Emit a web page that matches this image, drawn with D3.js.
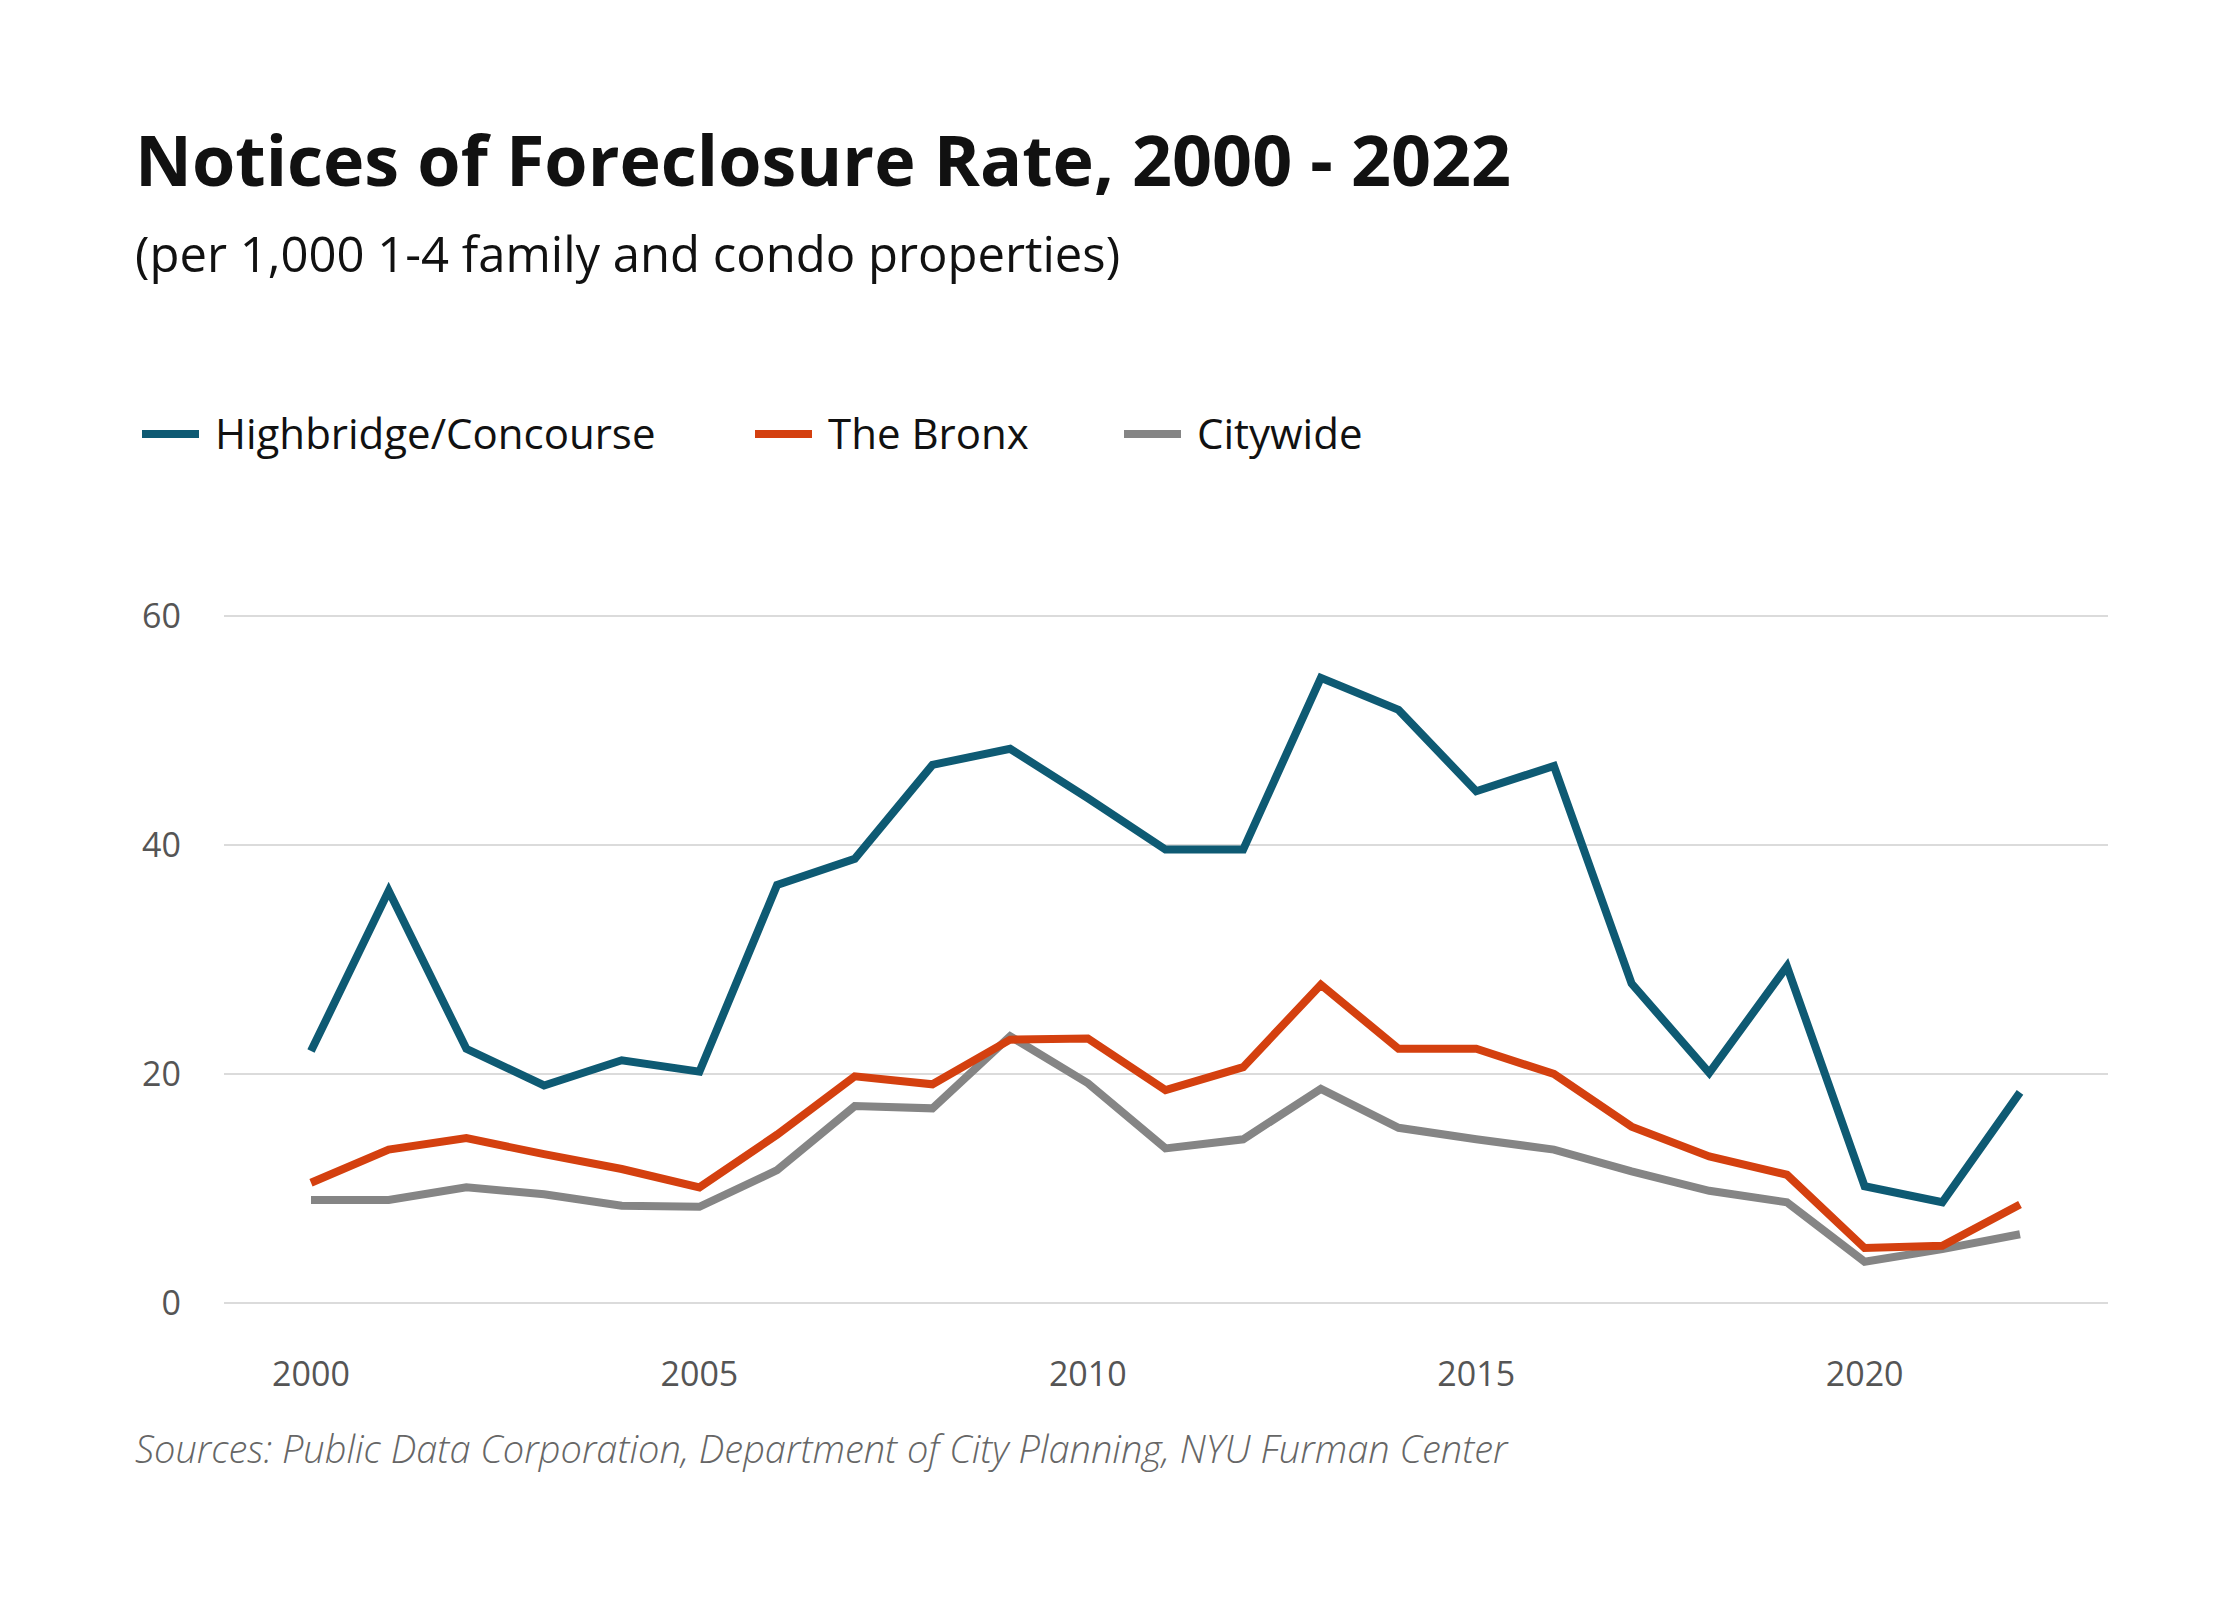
<!DOCTYPE html>
<html><head><meta charset="utf-8">
<script src="https://cdn.jsdelivr.net/npm/d3@7"></script>
<style>body{margin:0;background:#fff;font-family:"Open Sans",sans-serif}</style>
</head><body>
<svg id="chart" width="2240" height="1600"></svg>
<script>
// chart data
const years = d3.range(2000, 2023);
const highbridge = [22, 36, 22.2, 19, 21.2, 20.2, 36.5, 38.8, 47, 48.4, 44.1, 39.6, 39.6, 54.6, 51.8, 44.7, 46.9, 27.9, 20.1, 29.4, 10.2, 8.8, 18.4];
const bronx = [10.5, 13.4, 14.4, 13.0, 11.7, 10.1, 14.7, 19.8, 19.1, 23.0, 23.1, 18.6, 20.6, 27.8, 22.2, 22.2, 20.0, 15.4, 12.8, 11.2, 4.8, 5.0, 8.6];
const citywide = [9.0, 9.0, 10.1, 9.5, 8.5, 8.4, 11.6, 17.2, 17.0, 23.3, 19.2, 13.5, 14.3, 18.7, 15.3, 14.3, 13.4, 11.5, 9.8, 8.8, 3.6, 4.7, 6.0];
const yTicks = [0, 20, 40, 60];
const xTicks = [2000, 2005, 2010, 2015, 2020];

const series = [
  {name: "Highbridge/Concourse", values: highbridge, color: "#0e5a73", lx: 142},
  {name: "The Bronx", values: bronx, color: "#d4400f", lx: 755},
  {name: "Citywide", values: citywide, color: "#858585", lx: 1124}
];

const svg = d3.select("#chart");
const x = d3.scaleLinear().domain([2000, 2022]).range([311, 2020]);
const y = d3.scaleLinear().domain([0, 60]).range([1303, 616]);

svg.append("text").attr("x", 135).attr("y", 186)
  .style("font-size", "70px").style("font-weight", "700").attr("fill", "#111")
  .text("Notices of Foreclosure Rate, 2000 - 2022");
svg.append("text").attr("x", 135).attr("y", 272)
  .style("font-size", "49px").attr("fill", "#111")
  .text("(per 1,000 1-4 family and condo properties)");

// legend
series.forEach(s => {
  svg.append("line").attr("x1", s.lx).attr("x2", s.lx + 57)
    .attr("y1", 434).attr("y2", 434).attr("stroke", s.color).attr("stroke-width", 8);
  svg.append("text").attr("x", s.lx + 73).attr("y", 449)
    .style("font-size", "42px").attr("fill", "#111").text(s.name);
});

// grid + y labels
yTicks.forEach(t => {
  svg.append("line").attr("x1", 224).attr("x2", 2108)
    .attr("y1", y(t)).attr("y2", y(t)).attr("stroke", "#cfcfcf").attr("stroke-width", 1.5);
  svg.append("text").attr("x", 181).attr("y", y(t) + 12).attr("text-anchor", "end")
    .style("font-size", "34px").attr("fill", "#555").text(t);
});
xTicks.forEach(t => {
  svg.append("text").attr("x", x(t)).attr("y", 1386).attr("text-anchor", "middle")
    .style("font-size", "34px").attr("fill", "#555").text(t);
});

const line = d3.line().x((d, i) => x(years[i])).y(d => y(d));
series.slice().reverse().forEach(s => {
  svg.append("path").datum(s.values).attr("d", line)
    .attr("fill", "none").attr("stroke", s.color).attr("stroke-width", 8)
    .attr("stroke-linejoin", "miter");
});

svg.append("text").attr("x", 135).attr("y", 1463)
  .style("font-size", "38px").style("font-style", "italic").style("font-weight", "300")
  .attr("fill", "#666")
  .text("Sources: Public Data Corporation, Department of City Planning, NYU Furman Center");
</script>
</body></html>
